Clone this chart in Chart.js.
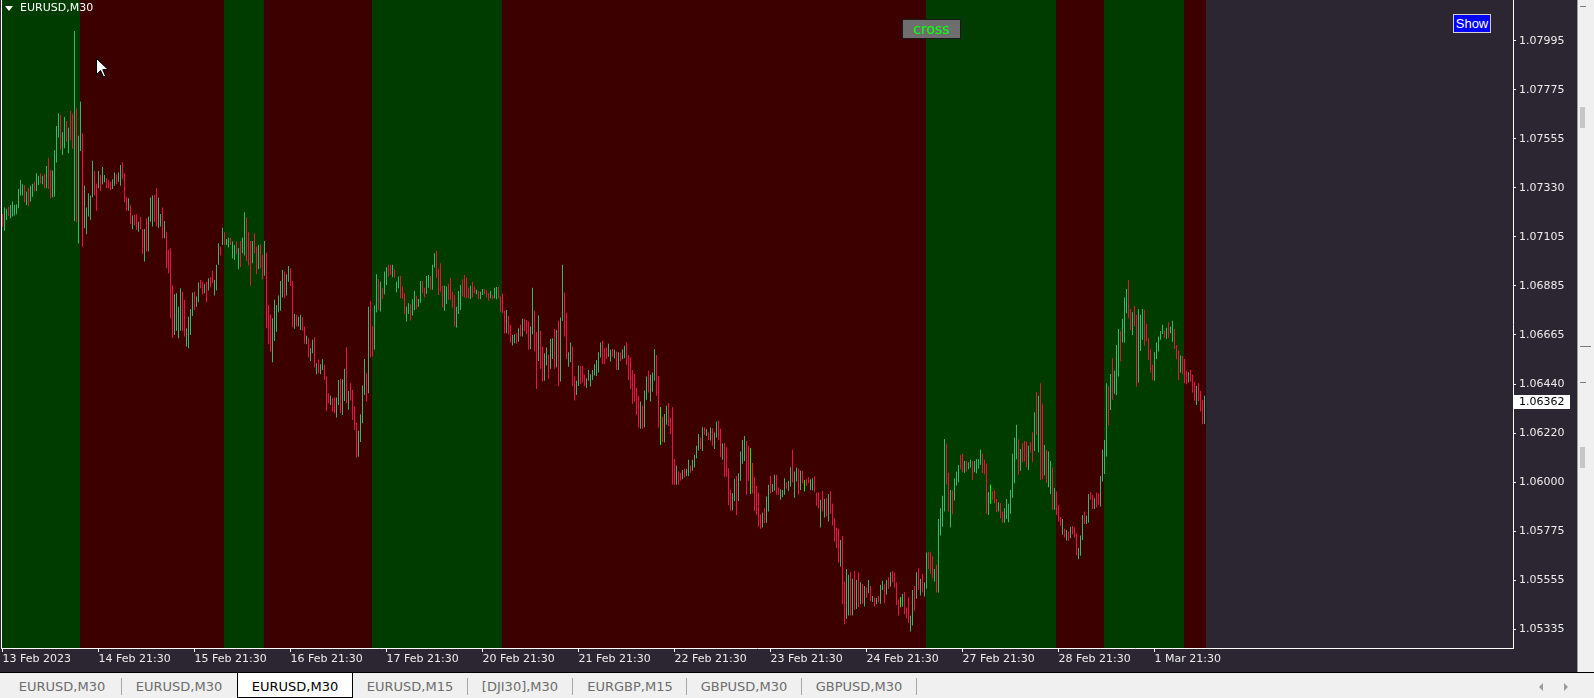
<!DOCTYPE html>
<html><head><meta charset="utf-8">
<script src="https://cdn.jsdelivr.net/npm/chart.js@4.4.1/dist/chart.umd.min.js"></script>
<style>
html,body{margin:0;padding:0;width:1594px;height:698px;overflow:hidden;background:#f0f0f0;font-family:"DejaVu Sans",sans-serif;}
#wrap{position:absolute;left:0;top:0;width:1577px;height:672px;background:#2b2631;}
#c{position:absolute;left:0;top:0;}
#title{position:absolute;left:20px;top:1px;color:#fff;font:11px "DejaVu Sans";line-height:14px;}
#tri{position:absolute;left:5px;top:6px;width:0;height:0;border-left:4px solid transparent;border-right:4px solid transparent;border-top:5px solid #fff;}
#cross{position:absolute;left:902px;top:19px;width:57px;height:18px;background:#6e6e6e;border:1px solid #1a1a1a;color:#00ff00;font:14px "DejaVu Sans";line-height:18px;text-align:center;}
#show{position:absolute;left:1453px;top:14px;width:36px;height:17px;background:#0000ff;border:1px solid #d0d0d0;color:#fff;font:13px "Liberation Sans";line-height:17px;text-align:center;}
#cursor{position:absolute;left:96px;top:58px;}
#tabs{position:absolute;left:0;top:672px;width:1594px;height:26px;background:#f0f0f0;border-top:1px solid #000;box-sizing:border-box;}
.tab{position:absolute;top:4px;height:20px;color:#6d6d6d;font:13px "DejaVu Sans";line-height:20px;text-align:center;}
.sep{position:absolute;top:5px;width:1px;height:17px;background:#a8a8a8;}
#active{position:absolute;left:237px;top:0px;width:114px;height:24px;background:#fff;border:1px solid #000;border-top:none;}
.arr{position:absolute;top:10px;width:0;height:0;border-top:4px solid transparent;border-bottom:4px solid transparent;}
#rs{position:absolute;left:1577px;top:0;width:17px;height:672px;background:#f0f0f0;border-left:1px solid #9a9a9a;box-sizing:border-box;}
.th{position:absolute;background:#c6c6c6;}
.ln{position:absolute;background:#7a7a7a;height:1px;}
</style></head><body>
<div id="wrap"><canvas id="c" width="1577" height="672"></canvas></div>
<div id="tri"></div><div id="title">EURUSD,M30</div>
<div id="cross">cross</div>
<div id="show">Show</div>
<svg id="cursor" width="14" height="22" viewBox="0 0 14 22"><path d="M0.5 0.5 L0.5 16.5 L4.5 12.5 L7.5 19 L9.5 18 L6.8 11.5 L12 11.5 Z" fill="#fff" stroke="#000" stroke-width="1"/></svg>
<div id="rs"><div class="th" style="left:2px;top:107px;width:5px;height:21px"></div><div class="th" style="left:2px;top:447px;width:5px;height:21px"></div>
<div class="ln" style="left:2px;top:6px;width:6px"></div><div class="ln" style="left:2px;top:346px;width:11px"></div><div class="ln" style="left:2px;top:382px;width:6px"></div></div>
<div id="tabs">
<div id="active"></div>
<div class="tab" style="left:10px;width:104px">EURUSD,M30</div>
<div class="sep" style="left:121px"></div>
<div class="tab" style="left:127px;width:104px">EURUSD,M30</div>
<div class="tab" style="left:243px;width:104px;color:#000">EURUSD,M30</div>
<div class="tab" style="left:358px;width:104px">EURUSD,M15</div>
<div class="sep" style="left:467px"></div>
<div class="tab" style="left:470px;width:100px">[DJI30],M30</div>
<div class="sep" style="left:572px"></div>
<div class="tab" style="left:578px;width:104px">EURGBP,M15</div>
<div class="sep" style="left:686px"></div>
<div class="tab" style="left:692px;width:104px">GBPUSD,M30</div>
<div class="sep" style="left:801px"></div>
<div class="tab" style="left:807px;width:104px">GBPUSD,M30</div>
<div class="sep" style="left:916px"></div>
<div class="arr" style="left:1539px;border-right:4px solid #9a9a9a"></div>
<div class="arr" style="left:1564px;border-left:4px solid #9a9a9a"></div>
</div>
<script>
const xLabels = ['13 Feb 2023','14 Feb 21:30','15 Feb 21:30','16 Feb 21:30','17 Feb 21:30','20 Feb 21:30','21 Feb 21:30','22 Feb 21:30','23 Feb 21:30','24 Feb 21:30','27 Feb 21:30','28 Feb 21:30','1 Mar 21:30'];
const xLabelIdx = [0,48,96,144,192,240,288,336,384,432,480,528,576];
const yLabels = ['1.07995','1.07775','1.07555','1.07330','1.07105','1.06885','1.06665','1.06440','1.06220','1.06000','1.05775','1.05555','1.05335'];
const lastPrice = 1.06362;
const bandStarts = [0,39,111,131,185,250,462,527,551,591];
const bandTrend = ['up','down','up','down','up','down','up','down','up','down'];
const highs = [
1.07212,1.07241,1.07235,1.07245,1.07253,1.07268,1.07253,1.07256,1.07325,1.07366,
1.07346,1.07343,1.07313,1.07331,1.07339,1.07349,1.07358,1.07396,1.07385,1.07396,
1.07385,1.07391,1.07429,1.07464,1.07411,1.07408,1.07500,1.07609,1.07667,1.07662,
1.07581,1.07650,1.07632,1.07602,1.07677,1.07665,1.08039,1.07690,1.07565,1.07720,
1.07577,1.07339,1.07241,1.07306,1.07295,1.07452,1.07406,1.07348,1.07406,1.07388,
1.07424,1.07388,1.07373,1.07366,1.07358,1.07369,1.07399,1.07391,1.07399,1.07433,
1.07444,1.07396,1.07290,1.07283,1.07253,1.07205,1.07208,1.07211,1.07177,1.07197,
1.07144,1.07144,1.07193,1.07200,1.07286,1.07295,1.07298,1.07328,1.07286,1.07212,
1.07241,1.07180,1.07132,1.07050,1.07057,1.06891,1.06849,1.06854,1.06793,1.06876,
1.06861,1.06824,1.06696,1.06748,1.06783,1.06857,1.06861,1.06839,1.06902,1.06914,
1.06906,1.06894,1.06906,1.06921,1.06926,1.06954,1.06914,1.06982,1.07080,1.07065,
1.07150,1.07129,1.07099,1.07105,1.07105,1.07087,1.07072,1.07087,1.07057,1.07090,
1.07105,1.07220,1.07196,1.07129,1.07090,1.07090,1.07125,1.07065,1.07072,1.07075,
1.07027,1.07090,1.07037,1.06801,1.06756,1.06741,1.06824,1.06801,1.06843,1.06909,
1.06959,1.06952,1.06939,1.06977,1.06967,1.06909,1.06760,1.06756,1.06748,1.06756,
1.06745,1.06703,1.06662,1.06653,1.06605,1.06643,1.06655,1.06537,1.06553,1.06533,
1.06555,1.06530,1.06477,1.06402,1.06391,1.06379,1.06384,1.06382,1.06462,1.06467,
1.06465,1.06512,1.06610,1.06412,1.06447,1.06417,1.06342,1.06269,1.06232,1.06307,
1.06437,1.06557,1.06493,1.06793,1.06819,1.06703,1.06798,1.06939,1.06918,1.06906,
1.06876,1.06952,1.06971,1.06982,1.06982,1.06982,1.06962,1.06906,1.06929,
1.06932,1.06884,1.06854,1.06793,1.06808,1.06804,1.06827,1.06864,1.06842,1.06828,
1.06909,1.06909,1.06879,1.06932,1.06936,1.06932,1.06982,1.07034,1.07046,1.06964,
1.06989,1.06888,1.06888,1.06884,1.06896,1.06924,1.06861,1.06846,1.06793,1.06864,
1.06891,1.06917,1.06936,1.06924,1.06879,1.06888,1.06906,1.06884,1.06869,1.06864,
1.06861,1.06873,1.06873,1.06866,1.06854,1.06864,1.06846,1.06879,1.06882,1.06882,
1.06839,1.06851,1.06775,1.06778,1.06751,1.06711,1.06665,1.06668,1.06673,1.06695,
1.06711,1.06738,1.06738,1.06733,1.06726,1.06703,1.06879,1.06775,1.06680,1.06753,
1.06683,1.06613,1.06583,1.06608,1.06575,1.06647,1.06650,1.06692,1.06688,1.06729,
1.06744,1.06982,1.06857,1.06766,1.06587,1.06631,1.06613,1.06477,1.06458,1.06527,
1.06525,1.06525,1.06485,1.06470,1.06507,1.06488,1.06507,1.06533,1.06552,1.06587,
1.06631,1.06638,1.06605,1.06608,1.06625,1.06598,1.06602,1.06598,1.06590,1.06587,
1.06586,1.06601,1.06616,1.06632,1.06575,1.06563,1.06507,1.06489,1.06427,1.06391,
1.06364,1.06345,1.06414,1.06477,1.06503,1.06485,1.06495,1.06602,1.06575,1.06480,
1.06340,1.06296,1.06308,1.06345,1.06357,1.06292,1.06339,1.06105,1.06074,1.06048,
1.06043,1.06055,1.06060,1.06060,1.06101,1.06075,1.06101,1.06123,1.06164,1.06218,
1.06202,1.06248,1.06248,1.06239,1.06226,1.06247,1.06244,1.06224,1.06274,1.06277,
1.06241,1.06176,1.06176,1.06158,1.06063,1.05965,1.05950,1.06015,1.06028,1.06040,
1.06138,1.06191,1.06209,1.06186,1.06164,1.06153,1.06086,1.06022,1.05983,1.05953,
1.05855,1.05863,1.05882,1.05935,1.05988,1.06028,1.05992,1.06033,1.06033,1.05976,
1.05968,1.05965,1.06018,1.06000,1.06006,1.06067,1.06146,1.06048,1.06066,1.06060,
1.06051,1.06051,1.06010,1.06013,1.06022,1.06013,1.06018,1.06025,1.05953,1.05953,
1.05920,1.05960,1.05924,1.05927,1.05947,1.05960,1.05902,1.05837,1.05795,1.05789,
1.05739,1.05757,1.05551,1.05608,1.05581,1.05593,1.05563,1.05599,1.05558,1.05592,
1.05548,1.05540,1.05531,1.05525,1.05558,1.05531,1.05486,1.05479,1.05476,1.05486,
1.05536,1.05554,1.05539,1.05558,1.05570,1.05593,1.05599,1.05592,1.05548,1.05468,
1.05480,1.05495,1.05503,1.05433,1.05480,1.05396,1.05513,1.05531,1.05593,1.05611,
1.05563,1.05586,1.05548,1.05682,1.05686,1.05683,1.05664,1.05608,1.05626,1.05834,
1.05882,1.05938,1.06195,1.06173,1.06043,1.05965,1.05965,1.06018,1.06048,1.06078,
1.06123,1.06128,1.06096,1.06096,1.06089,1.06101,1.06096,1.06096,1.06105,1.06104,
1.06146,1.06128,1.06101,1.06083,1.05954,1.05988,1.05958,1.05965,1.05924,1.05909,
1.05905,1.05867,1.05882,1.05924,1.05902,1.05965,1.06128,1.06201,1.06259,1.06194,
1.06150,1.06176,1.06186,1.06183,1.06164,1.06180,1.06226,1.06316,1.06409,1.06391,
1.06447,1.06354,1.06168,1.06146,1.06138,1.06096,1.06067,1.05973,1.05958,1.05897,
1.05842,1.05834,1.05789,1.05784,1.05777,1.05799,1.05802,1.05795,1.05769,1.05702,
1.05759,1.05852,1.05867,1.05848,1.05947,1.05954,1.05942,1.05927,1.05953,1.05950,
1.06028,1.06146,1.06191,1.06447,1.06435,1.06489,1.06560,1.06503,1.06620,1.06692,
1.06683,1.06738,1.06834,1.06873,1.06914,1.06783,1.06768,1.06796,1.06756,1.06781,
1.06756,1.06783,1.06778,1.06715,1.06650,1.06601,1.06530,1.06587,1.06631,1.06658,
1.06683,1.06711,1.06685,1.06698,1.06723,1.06703,1.06729,1.06692,1.06620,1.06595,
1.06572,1.06570,1.06557,1.06503,1.06497,1.06507,1.06485,1.06454,1.06435,1.06447,
1.06412,1.06372,1.06390
];
const lows = [
1.07155,1.07136,1.07185,1.07203,1.07193,1.07200,1.07205,1.07211,1.07238,1.07295,
1.07295,1.07265,1.07253,1.07248,1.07268,1.07290,1.07313,1.07316,1.07343,1.07351,
1.07346,1.07331,1.07328,1.07325,1.07283,1.07287,1.07290,1.07444,1.07557,1.07501,
1.07479,1.07509,1.07539,1.07486,1.07546,1.07507,1.07180,1.07174,1.07078,1.07497,
1.07064,1.07147,1.07120,1.07200,1.07186,1.07287,1.07295,1.07227,1.07328,1.07317,
1.07346,1.07355,1.07328,1.07328,1.07320,1.07325,1.07339,1.07346,1.07358,1.07339,
1.07370,1.07265,1.07227,1.07227,1.07167,1.07143,1.07162,1.07140,1.07132,1.07143,
1.07031,1.06997,1.07042,1.07042,1.07177,1.07155,1.07177,1.07155,1.07150,1.07155,
1.07102,1.07102,1.06967,1.06944,1.06741,1.06653,1.06665,1.06684,1.06650,1.06684,
1.06684,1.06658,1.06613,1.06605,1.06665,1.06751,1.06778,1.06793,1.06813,1.06876,
1.06849,1.06854,1.06813,1.06866,1.06881,1.06899,1.06843,1.06866,1.06982,1.07024,
1.07072,1.07072,1.07072,1.07060,1.07072,1.07012,1.07004,1.07030,1.06962,1.06971,
1.07034,1.07024,1.07001,1.06979,1.06888,1.06989,1.07034,1.06941,1.06962,1.06967,
1.06917,1.06933,1.06696,1.06623,1.06590,1.06542,1.06638,1.06680,1.06768,1.06775,
1.06834,1.06831,1.06843,1.06906,1.06887,1.06700,1.06693,1.06703,1.06703,1.06688,
1.06685,1.06625,1.06623,1.06563,1.06548,1.06583,1.06518,1.06488,1.06492,1.06488,
1.06507,1.06462,1.06322,1.06357,1.06349,1.06319,1.06311,1.06292,1.06349,1.06311,
1.06304,1.06367,1.06357,1.06327,1.06369,1.06281,1.06236,1.06110,1.06115,1.06181,
1.06266,1.06394,1.06364,1.06402,1.06563,1.06568,1.06598,1.06768,1.06778,1.06771,
1.06827,1.06849,1.06891,1.06929,1.06936,1.06926,1.06924,1.06858,1.06876,
1.06831,1.06828,1.06760,1.06726,1.06760,1.06730,1.06753,1.06778,1.06783,1.06793,
1.06811,1.06854,1.06834,1.06851,1.06879,1.06869,1.06869,1.06970,1.06924,1.06846,
1.06861,1.06789,1.06775,1.06805,1.06824,1.06824,1.06789,1.06703,1.06699,1.06760,
1.06778,1.06839,1.06834,1.06831,1.06831,1.06828,1.06836,1.06854,1.06849,1.06828,
1.06828,1.06846,1.06849,1.06834,1.06821,1.06831,1.06827,1.06831,1.06827,1.06831,
1.06771,1.06766,1.06673,1.06673,1.06668,1.06631,1.06617,1.06628,1.06625,1.06635,
1.06658,1.06658,1.06683,1.06668,1.06598,1.06602,1.06668,1.06590,1.06421,1.06548,
1.06512,1.06455,1.06458,1.06527,1.06467,1.06512,1.06557,1.06512,1.06518,1.06435,
1.06455,1.06729,1.06658,1.06557,1.06522,1.06542,1.06435,1.06369,1.06394,1.06435,
1.06444,1.06450,1.06435,1.06427,1.06458,1.06432,1.06462,1.06482,1.06480,1.06495,
1.06563,1.06534,1.06533,1.06557,1.06567,1.06545,1.06567,1.06560,1.06507,1.06507,
1.06548,1.06555,1.06560,1.06530,1.06462,1.06421,1.06354,1.06364,1.06304,1.06247,
1.06241,1.06241,1.06248,1.06372,1.06405,1.06364,1.06409,1.06458,1.06390,1.06247,
1.06168,1.06183,1.06179,1.06259,1.06254,1.06218,1.05988,1.05988,1.05988,1.05988,
1.06007,1.06013,1.06021,1.06028,1.06028,1.06043,1.06051,1.06066,1.06108,1.06143,
1.06150,1.06141,1.06214,1.06209,1.06191,1.06188,1.06164,1.06150,1.06202,1.06191,
1.06113,1.06101,1.06022,1.06025,1.05897,1.05872,1.05872,1.05915,1.05852,1.05915,
1.06006,1.06083,1.06096,1.05943,1.06006,1.05947,1.05950,1.05870,1.05852,1.05799,
1.05789,1.05795,1.05815,1.05817,1.05867,1.05950,1.05955,1.05961,1.05943,1.05943,
1.05920,1.05932,1.05943,1.05970,1.05961,1.05980,1.06000,1.05930,1.06003,1.05943,
1.05965,1.05995,1.05958,1.05983,1.05995,1.05965,1.05962,1.05958,1.05893,1.05882,
1.05795,1.05867,1.05840,1.05845,1.05822,1.05857,1.05804,1.05732,1.05702,1.05637,
1.05619,1.05448,1.05358,1.05381,1.05397,1.05397,1.05397,1.05423,1.05427,1.05435,
1.05448,1.05450,1.05438,1.05476,1.05498,1.05463,1.05458,1.05438,1.05448,1.05456,
1.05450,1.05513,1.05453,1.05491,1.05518,1.05528,1.05548,1.05524,1.05445,1.05397,
1.05435,1.05438,1.05403,1.05385,1.05363,1.05325,1.05352,1.05418,1.05473,1.05513,
1.05488,1.05501,1.05483,1.05518,1.05608,1.05586,1.05566,1.05551,1.05501,1.05501,
1.05759,1.05799,1.05867,1.05988,1.05867,1.05795,1.05857,1.05917,1.05985,1.06000,
1.06058,1.06045,1.06043,1.06048,1.06058,1.06066,1.06010,1.06045,1.06040,1.06060,
1.06078,1.06040,1.06036,1.05857,1.05852,1.05902,1.05920,1.05905,1.05864,1.05867,
1.05837,1.05817,1.05817,1.05834,1.05819,1.05857,1.05930,1.05995,1.06104,1.06033,
1.06052,1.06089,1.06093,1.06066,1.06055,1.06134,1.06090,1.06141,1.06214,1.06135,
1.06010,1.06013,1.06030,1.05998,1.05977,1.05947,1.05875,1.05875,1.05852,1.05822,
1.05802,1.05762,1.05750,1.05736,1.05735,1.05747,1.05765,1.05750,1.05671,1.05652,
1.05667,1.05739,1.05811,1.05811,1.05817,1.05920,1.05879,1.05879,1.05885,1.05897,
1.05890,1.06003,1.06037,1.06116,1.06256,1.06326,1.06372,1.06399,1.06394,1.06477,
1.06545,1.06631,1.06631,1.06763,1.06741,1.06688,1.06665,1.06703,1.06432,1.06450,
1.06593,1.06643,1.06616,1.06638,1.06552,1.06495,1.06462,1.06458,1.06557,1.06590,
1.06643,1.06670,1.06653,1.06647,1.06650,1.06673,1.06635,1.06602,1.06555,1.06462,
1.06495,1.06488,1.06447,1.06442,1.06450,1.06454,1.06405,1.06369,1.06349,1.06367,
1.06319,1.06262,1.06263
];
// u = up bar, d = down bar, n = doji
const barDirs = (
'duuduuuuuu'+'ududuuduud'+'ududduuuud'+'uududduduu'+'duuuuuddud'+
'uuddduuduu'+'dddududdud'+'duduuudduu'+'dudddduuuu'+'dduuuuduud'+
'dududduuud'+'uduuduudud'+'uuddduddud'+'duddduuuuu'+'uduudduduu'+
'dduduududu'+'udddudduud'+'uududddduu'+'uududduudu'+'duudduduu'+
'ddduuduudu'+'udduuduudd'+'dduudddduu'+'udddduddud'+'uuddduduud'+
'dddudduudu'+'duddduuddu'+'dduuduudud'+'uudduudduu'+'ddduuuuuuu'+
'uddduududu'+'duuddddddd'+'uduuduuudd'+'nduuddddud'+'duduuduuuu'+
'dudududuud'+'dudddduudu'+'uuuddndddd'+'duduuduudd'+'uuuduuduud'+
'udndduuddd'+'udududdddd'+'udduududud'+'ududududud'+'uudududddd'+
'nuddduudud'+'uduudddudu'+'uuudduduuu'+'dduduuduuu'+'udddundddu'+
'dduuuuuuud'+'uddduddudu'+'dduduududd'+'dudududddu'+'uuduuddudd'+
'uuuududuuu'+'duuudduddu'+'uuddddduuu'+'uududuuddd'+'udddudddud'+
'ddu').split('');

const N = Math.min(highs.length, lows.length, barDirs.length);
const dirColor = {u:'#3cb371', d:'#e3163e', n:'#00ff00'};
const candles = [], candleColors = [];
for (let i = 0; i < N; i++) {
  candles.push({x: i, y: [lows[i], highs[i]]});
  candleColors.push(dirColor[barDirs[i]]);
}
const yTickTop = parseFloat(yLabels[0]);
const yTickBot = parseFloat(yLabels[yLabels.length - 1]);
const perPx = (yTickTop - yTickBot) / 588.6;
const yMax = yTickTop + 40.7 * perPx;
const yMin = yTickBot - 18.7 * perPx;
const yTickVals = yLabels.map((s, k) => yTickTop - k * (yTickTop - yTickBot) / (yLabels.length - 1));

const bandPlugin = {
  id: 'bands',
  beforeDatasetsDraw(chart) {
    const {ctx, chartArea: a, scales: {x}} = chart;
    ctx.save();
    for (let b = 0; b < bandStarts.length; b++) {
      const s = bandStarts[b];
      const e = b + 1 < bandStarts.length ? bandStarts[b + 1] : N;
      let x0 = Math.round(x.getPixelForValue(s - 0.5) + 0.01);
      const x1 = Math.round(x.getPixelForValue(e - 0.5) + 0.01);
      if (b === 0) x0 = a.left;
      ctx.fillStyle = bandTrend[b] === 'up' ? '#003c00' : '#3c0000';
      ctx.fillRect(x0, a.top, x1 - x0, a.bottom - a.top);
    }
    ctx.restore();
  },
  afterDraw(chart) {
    const {ctx, chartArea: a, scales: {y}} = chart;
    ctx.save();
    ctx.fillStyle = '#ffffff';
    ctx.fillRect(Math.round(a.left), 0, 1, Math.round(a.bottom));
    const py = Math.round(y.getPixelForValue(lastPrice));
    ctx.fillRect(a.right + 1, py - 7, 56, 14);
    ctx.fillStyle = '#000';
    ctx.font = '11px "DejaVu Sans"';
    ctx.textBaseline = 'middle';
    ctx.fillText(lastPrice.toFixed(5), a.right + 6, py + 0.5);
    ctx.restore();
  }
};

Chart.defaults.font.family = '"DejaVu Sans"';
new Chart(document.getElementById('c'), {
  type: 'bar',
  data: {datasets: [{
    data: candles,
    backgroundColor: candleColors,
    borderWidth: 0,
    barThickness: 1,
    inflateAmount: 0
  }]},
  options: {
    responsive: false, animation: false, devicePixelRatio: 1,
    layout: {padding: {left: 1, top: 0, right: 0, bottom: 0}},
    plugins: {legend: {display: false}, tooltip: {enabled: false}},
    scales: {
      x: {
        type: 'linear', min: -0.75, max: 755.25, offset: false,
        afterBuildTicks: s => { s.ticks = xLabelIdx.map(v => ({value: v})); },
        afterFit: s => { s.height = 24; s.paddingLeft = 0; s.paddingRight = 0; },
        ticks: {callback: (v, i) => xLabels[i], align: 'start', maxRotation: 0, autoSkip: false,
                color: '#ececec', font: {size: 11}, padding: 1},
        grid: {drawOnChartArea: false, offset: false, tickLength: 4, color: '#ffffff', tickColor: '#ffffff'},
        border: {color: '#ffffff', width: 1}
      },
      y: {
        position: 'right', min: yMin, max: yMax,
        afterBuildTicks: s => { s.ticks = yTickVals.map(v => ({value: v})); },
        afterFit: s => { s.width = 64; s.paddingTop = 0; s.paddingBottom = 0; },
        ticks: {callback: (v, i) => yLabels[i], color: '#ececec', font: {size: 11}, padding: 3,
                crossAlign: 'near', autoSkip: false},
        grid: {drawOnChartArea: false, tickLength: 3, color: '#ffffff', tickColor: '#ffffff'},
        border: {color: '#ffffff', width: 1}
      }
    }
  },
  plugins: [bandPlugin]
});
</script>
</body></html>
